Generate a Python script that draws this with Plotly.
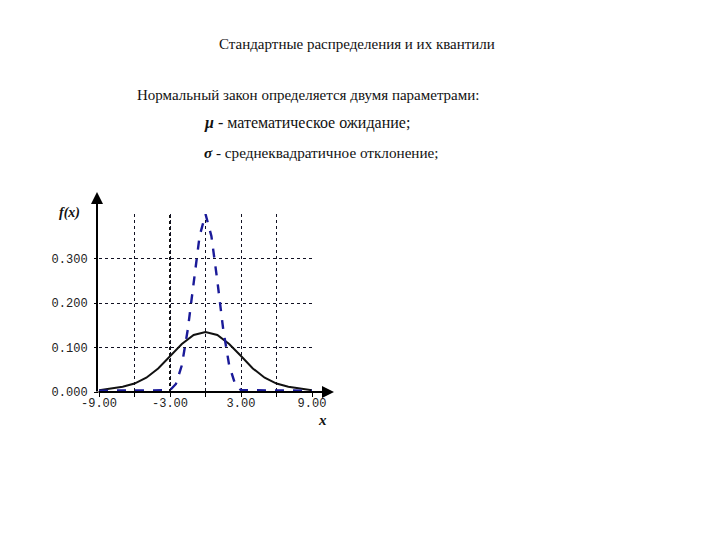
import plotly.graph_objects as go

# ---- data ----
x_sigma3 = [-9, -8, -7, -6, -5, -4, -3, -2, -1, 0, 1, 2, 3, 4, 5, 6, 7, 8, 9]
f_sigma3 = [0.004, 0.008, 0.012, 0.019, 0.032, 0.053, 0.081, 0.108, 0.128, 0.135,
            0.128, 0.108, 0.081, 0.053, 0.032, 0.019, 0.012, 0.008, 0.004]

x_sigma1 = [-9, -3, -2.5, -2, -1.5, -1, -0.5, 0, 0.5, 1, 1.5, 2, 2.5, 3, 9]
f_sigma1 = [0.003, 0.004, 0.018, 0.06, 0.14, 0.25, 0.35, 0.40, 0.35, 0.25, 0.14, 0.06,
            0.018, 0.004, 0.003]

x_tickvals = [-9, -6, -3, 0, 3, 6, 9]
x_ticktext = ["-9.00", "", "-3.00", "", "3.00", "", "9.00"]
y_tickvals = [0, 0.1, 0.2, 0.3]
y_ticktext = ["0.000", "0.100", "0.200", "0.300"]

title_line = "Стандартные распределения и их квантили"
intro_line = "Нормальный закон определяется двумя параметрами:"
mu_line = "<b><i>μ</i></b> - математическое ожидание;"
sigma_line = "<b><i>σ</i></b> - среднеквадратичное отклонение;"

W, H = 720, 540
OFF = 8  # page body margin in the browser
# target screen coordinates of the plot area
SX0, SX1, SY0, SY1 = 99, 312, 214, 392
L, T = SX0 - OFF, SY0 - OFF
PW, PH = SX1 - SX0, SY1 - SY0
R, B = W - L - PW, H - T - PH


def px(xs):
    return (xs - SX0) / PW


def py(ys):
    return (SY1 - ys) / PH


fig = go.Figure()
fig.add_trace(go.Scatter(x=x_sigma3, y=f_sigma3, mode="lines",
                         line=dict(color="#111111", width=2), showlegend=False))
fig.add_trace(go.Scatter(x=x_sigma1, y=f_sigma1, mode="lines",
                         line=dict(color="#1a1a99", width=2.4, dash="dash"),
                         showlegend=False))

# bold dotted line at x = -3
fig.add_shape(type="line", x0=-3, x1=-3, y0=0, y1=0.4, xref="x", yref="y",
              line=dict(color="#111111", width=2, dash="dot"), layer="below")

serif = "Liberation Serif"
mono = "Liberation Mono"

annots = [
    dict(text=title_line, x=px(357), y=py(44), xanchor="center", yanchor="middle",
         font=dict(family=serif, size=15, color="#111")),
    dict(text=intro_line, x=px(308), y=py(95), xanchor="center", yanchor="middle",
         font=dict(family=serif, size=15, color="#111")),
    dict(text=mu_line, x=px(202), y=py(123), xanchor="left", yanchor="middle",
         font=dict(family=serif, size=16, color="#111")),
    dict(text=sigma_line, x=px(202), y=py(152), xanchor="left", yanchor="middle",
         font=dict(family=serif, size=15.2, color="#111")),
    dict(text="<b><i>f(x)</i></b>", x=px(69), y=py(213), xanchor="center", yanchor="middle",
         font=dict(family=serif, size=14, color="#111")),
    dict(text="<b><i>x</i></b>", x=px(322), y=py(420), xanchor="center", yanchor="middle",
         font=dict(family=serif, size=15, color="#111")),
]
for a in annots:
    a.update(xref="paper", yref="paper", showarrow=False)
    fig.add_annotation(**a)

# axes with arrows (tail offsets in pixels)
fig.add_annotation(x=px(334), y=py(392), ax=-(334 - 97), ay=0, xref="paper", yref="paper",
                   text="", showarrow=True, standoff=0, startstandoff=0,
                   arrowhead=2, arrowsize=1.2, arrowwidth=2, arrowcolor="#000")
fig.add_annotation(x=px(97), y=py(192), ax=0, ay=(393 - 192), xref="paper", yref="paper",
                   text="", showarrow=True, standoff=0, startstandoff=0,
                   arrowhead=2, arrowsize=1.2, arrowwidth=2, arrowcolor="#000")

grid = dict(showgrid=True, gridcolor="#111122", griddash="dot", gridwidth=1,
            zeroline=False, showline=False, ticks="outside", ticklen=4,
            tickcolor="#000", tickfont=dict(family=mono, size=12, color="#222"))

fig.update_xaxes(range=[-9, 9], tickvals=x_tickvals, ticktext=x_ticktext,
                 ticklabelstandoff=-4, **grid)
fig.update_yaxes(range=[0, 0.4], tickvals=y_tickvals, ticktext=y_ticktext,
                 ticklabelstandoff=4, **grid)

fig.update_layout(width=W, height=H, margin=dict(l=L, r=R, t=T, b=B),
                  paper_bgcolor="white", plot_bgcolor="white", showlegend=False)

fig.write_html("out.html")
